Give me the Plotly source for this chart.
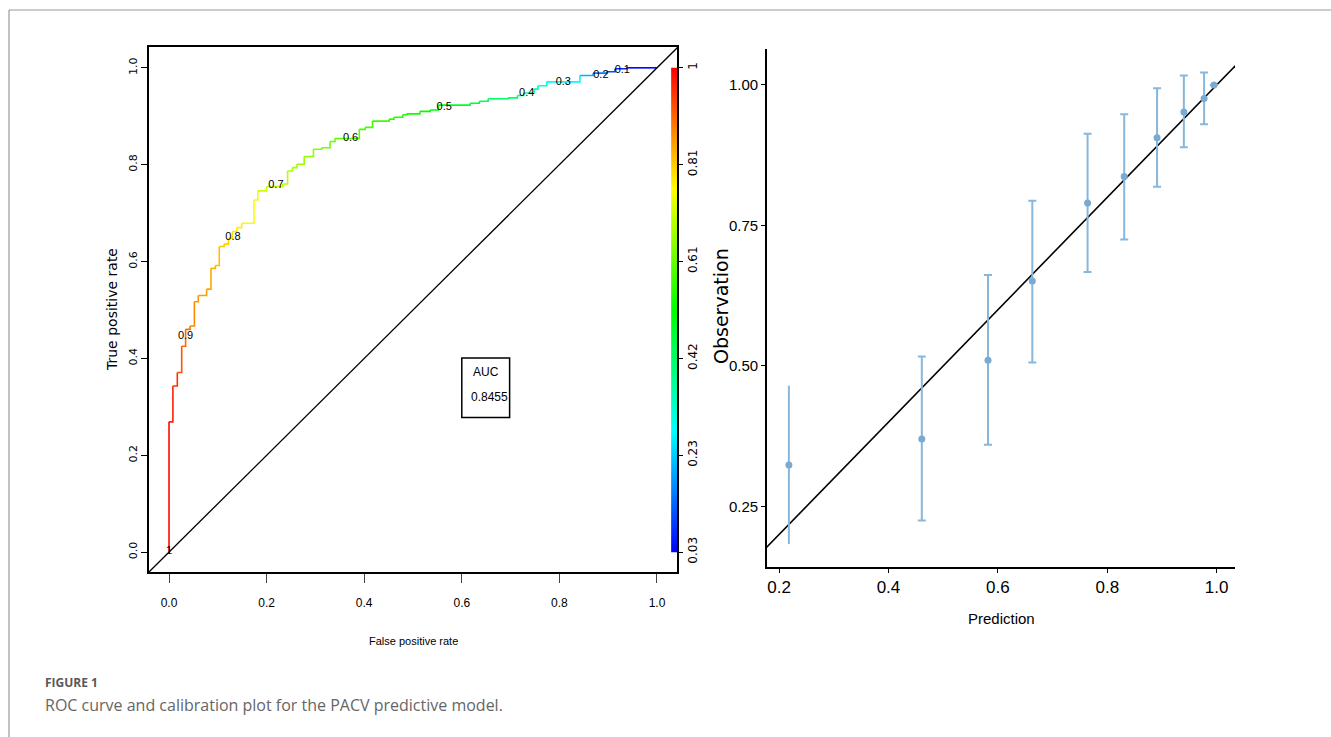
import plotly.graph_objects as go
from plotly.colors import sample_colorscale

W, H = 1331, 737

# ---------------- ROC curve data (left panel) ----------------
roc_fpr = [0.000, 0.000, 0.008, 0.017, 0.026, 0.034, 0.043, 0.052, 0.060, 0.077,
           0.086, 0.095, 0.103, 0.113, 0.122, 0.130, 0.139, 0.149, 0.174, 0.182,
           0.200, 0.233, 0.243, 0.253, 0.262, 0.277, 0.296, 0.313, 0.330, 0.340,
           0.390, 0.402, 0.417, 0.451, 0.461, 0.479, 0.487, 0.514, 0.535, 0.552,
           0.617, 0.636, 0.654, 0.695, 0.714, 0.727, 0.748, 0.756, 0.774, 0.842,
           0.869, 0.897, 0.914, 0.938, 1.000]
roc_tpr = [0.000, 0.269, 0.343, 0.371, 0.425, 0.460, 0.467, 0.517, 0.530, 0.543,
           0.586, 0.592, 0.631, 0.636, 0.648, 0.662, 0.670, 0.679, 0.727, 0.746,
           0.755, 0.760, 0.787, 0.794, 0.801, 0.817, 0.832, 0.835, 0.848, 0.854,
           0.873, 0.877, 0.890, 0.894, 0.898, 0.903, 0.905, 0.910, 0.913, 0.923,
           0.927, 0.931, 0.936, 0.938, 0.943, 0.948, 0.956, 0.963, 0.971, 0.984,
           0.989, 0.992, 0.998, 1.000, 1.000]
roc_cutoff = [1.00, 0.99, 0.97, 0.95, 0.92, 0.90, 0.89, 0.87, 0.86, 0.85,
              0.84, 0.83, 0.82, 0.81, 0.80, 0.79, 0.78, 0.77, 0.75, 0.74,
              0.71, 0.70, 0.69, 0.68, 0.67, 0.66, 0.65, 0.64, 0.62, 0.61,
              0.60, 0.59, 0.58, 0.57, 0.56, 0.55, 0.54, 0.53, 0.52, 0.50,
              0.48, 0.46, 0.44, 0.42, 0.41, 0.40, 0.37, 0.35, 0.31, 0.27,
              0.20, 0.15, 0.10, 0.07, 0.03]

cut_labels = ["1", "0.9", "0.8", "0.7", "0.6", "0.5", "0.4", "0.3", "0.2", "0.1"]
cut_label_fpr = [0.000, 0.034, 0.131, 0.219, 0.372, 0.564, 0.733, 0.808, 0.885, 0.929]
cut_label_tpr = [0.002, 0.445, 0.650, 0.757, 0.855, 0.919, 0.948, 0.970, 0.985, 0.996]

auc_value = 0.8455
cut_min, cut_max = 0.03, 1.00
cbar_tick_pos = [0.0, 0.2, 0.4, 0.6, 0.8, 1.0]
cbar_tick_text = ["0.03", "0.23", "0.42", "0.61", "0.81", "1"]
roc_ticks = [0.0, 0.2, 0.4, 0.6, 0.8, 1.0]
roc_ticktext = ["0.0", "0.2", "0.4", "0.6", "0.8", "1.0"]
identity = [-0.2, 1.2]

# ---------------- Calibration data (right panel) ----------------
pred = [0.218, 0.461, 0.582, 0.663, 0.764, 0.831, 0.891, 0.940, 0.977, 0.995]
obs = [0.324, 0.370, 0.510, 0.651, 0.790, 0.837, 0.906, 0.952, 0.976, 1.000]
obs_lo = [0.183, 0.225, 0.360, 0.506, 0.667, 0.725, 0.819, 0.889, 0.930, 1.000]
obs_hi = [0.465, 0.517, 0.662, 0.794, 0.913, 0.948, 0.994, 1.017, 1.022, 1.000]
has_cap = [False, True, True, True, True, True, True, True, True, True]
cal_xticks = [0.2, 0.4, 0.6, 0.8, 1.0]
cal_xticktext = ["0.2", "0.4", "0.6", "0.8", "1.0"]
cal_yticks = [0.25, 0.50, 0.75, 1.00]
cal_yticktext = ["0.25", "0.50", "0.75", "1.00"]

# ---------------- styling ----------------
rainbow = [[0.0, "#0000FF"], [0.25, "#00FFFF"], [0.5, "#00FF00"],
           [0.75, "#FFFF00"], [1.0, "#FF0000"]]
NARROW = "Liberation Sans, Arial, sans-serif"
WIDE = "DejaVu Sans, Verdana, sans-serif"
ERR_COL = "#88b7db"
PT_COL = "#78aad2"


def px_x(p):
    return p / W


def px_y(p):
    return 1 - p / H


fig = go.Figure()

# ROC step curve, one segment per cutoff colour
for i in range(1, len(roc_fpr)):
    t = (roc_cutoff[i] - cut_min) / (cut_max - cut_min)
    col = sample_colorscale(rainbow, [min(max(t, 0), 1)])[0]
    fig.add_trace(go.Scatter(
        x=[roc_fpr[i - 1], roc_fpr[i]], y=[roc_tpr[i - 1], roc_tpr[i]],
        mode="lines", line=dict(color=col, width=1.6, shape="hv"),
        xaxis="x", yaxis="y", showlegend=False, hoverinfo="skip"))

# chance diagonal
fig.add_trace(go.Scatter(x=identity, y=identity, mode="lines",
                         line=dict(color="black", width=1.3),
                         xaxis="x", yaxis="y", showlegend=False, hoverinfo="skip"))

# cutoff labels
fig.add_trace(go.Scatter(x=cut_label_fpr, y=cut_label_tpr, mode="text",
                         text=cut_labels, textfont=dict(family=NARROW, size=11, color="black"),
                         xaxis="x", yaxis="y", showlegend=False, hoverinfo="skip",
                         cliponaxis=False))

# colour bar strip (gradient)
cb_x0, cb_x1 = 1.029, 1.041
fig.add_trace(go.Scatter(
    x=[cb_x0, cb_x1, cb_x1, cb_x0, cb_x0],
    y=[cbar_tick_pos[0], cbar_tick_pos[0], cbar_tick_pos[-1], cbar_tick_pos[-1], cbar_tick_pos[0]],
    mode="lines", fill="toself", line=dict(width=0, color="rgba(0,0,0,0)"),
    fillgradient=dict(type="vertical", colorscale=rainbow),
    xaxis="x", yaxis="y2", showlegend=False, hoverinfo="skip"))

# calibration identity line
fig.add_trace(go.Scatter(x=identity, y=identity, mode="lines",
                         line=dict(color="black", width=1.6),
                         xaxis="x2", yaxis="y3", showlegend=False, hoverinfo="skip"))

# calibration points with error bars
for cap in (False, True):
    idx = [i for i in range(len(pred)) if has_cap[i] == cap]
    fig.add_trace(go.Scatter(
        x=[pred[i] for i in idx], y=[obs[i] for i in idx], mode="markers",
        marker=dict(color=PT_COL, size=7),
        error_y=dict(type="data", symmetric=False,
                     array=[obs_hi[i] - obs[i] for i in idx],
                     arrayminus=[obs[i] - obs_lo[i] for i in idx],
                     color=ERR_COL, thickness=2, width=4 if cap else 0),
        xaxis="x2", yaxis="y3", showlegend=False, hoverinfo="skip", cliponaxis=False))

# ---------------- layout ----------------
roc_xr = [-0.041, 1.041]
roc_yr = [-0.041, 1.043]

fig.update_layout(
    width=W, height=H, autosize=False,
    margin=dict(l=0, r=0, t=0, b=0),
    paper_bgcolor="white", plot_bgcolor="white",
    xaxis=dict(domain=[px_x(149), px_x(677)], range=roc_xr, anchor="y",
               showline=True, mirror=True, linecolor="black", linewidth=1.5,
               showgrid=False, zeroline=False,
               tickmode="array", tickvals=roc_ticks, ticktext=roc_ticktext,
               ticks="outside", ticklen=9, tickwidth=1.3, tickcolor="#444",
               tickfont=dict(family=NARROW, size=12, color="black"),
               ticklabelstandoff=10),
    yaxis=dict(domain=[px_y(572), px_y(47)], range=roc_yr, anchor="x",
               showline=True, mirror=True, linecolor="black", linewidth=1.5,
               showgrid=False, zeroline=False,
               tickmode="array", tickvals=roc_ticks, ticktext=roc_ticktext,
               ticks="outside", ticklen=6, tickwidth=1.3, tickcolor="black",
               tickangle=-90,
               tickfont=dict(family=WIDE, size=11, color="black")),
    yaxis2=dict(overlaying="y", side="right", anchor="x", range=roc_yr,
                showline=False, showgrid=False, zeroline=False,
                tickmode="array", tickvals=cbar_tick_pos, ticktext=cbar_tick_text,
                ticks="outside", ticklen=5, tickwidth=1.3, tickcolor="black",
                tickangle=-90,
                tickfont=dict(family=WIDE, size=12, color="black")),
    xaxis2=dict(domain=[px_x(767), px_x(1235)], range=[0.178, 1.0335], anchor="y3",
                showline=True, mirror=False, linecolor="black", linewidth=1.6,
                showgrid=False, zeroline=False,
                tickmode="array", tickvals=cal_xticks, ticktext=cal_xticktext,
                ticks="outside", ticklen=4, tickwidth=1.2, tickcolor="black",
                tickfont=dict(family=NARROW, size=17, color="black")),
    yaxis3=dict(domain=[px_y(567), px_y(49)], range=[0.1423, 1.064], anchor="x2",
                showline=True, mirror=False, linecolor="black", linewidth=1.6,
                showgrid=False, zeroline=False,
                tickmode="array", tickvals=cal_yticks, ticktext=cal_yticktext,
                ticks="outside", ticklen=4, tickwidth=1.2, tickcolor="black",
                tickfont=dict(family=NARROW, size=15, color="black")),
    showlegend=False,
)

shapes = [
    # outer figure frame (top and left rules)
    dict(type="line", xref="paper", yref="paper", x0=px_x(9), x1=1.0, y0=px_y(10), y1=px_y(10),
         line=dict(color="#999999", width=1.2)),
    dict(type="line", xref="paper", yref="paper", x0=px_x(9), x1=px_x(9), y0=0, y1=px_y(10),
         line=dict(color="#999999", width=1.2)),
    # AUC legend box
    dict(type="rect", xref="x", yref="y", x0=0.600, x1=0.698, y0=0.278, y1=0.401,
         line=dict(color="black", width=1.5), fillcolor="rgba(0,0,0,0)"),
]


def ann(text, x, y, size, family, color="black", angle=0, xanchor="center", xref="paper", yref="paper"):
    return dict(text=text, x=x, y=y, xref=xref, yref=yref, showarrow=False,
                xanchor=xanchor, yanchor="middle", textangle=angle,
                font=dict(family=family, size=size, color=color))


annotations = [
    ann("AUC", 0.650, 0.372, 12, NARROW, xref="x", yref="y"),
    ann(f"{auc_value:.4f}", 0.656, 0.320, 12, NARROW, xref="x", yref="y"),
    ann("True positive rate", px_x(112), px_y(310), 14, WIDE, angle=-90),
    ann("False positive rate", px_x(413), px_y(641), 11, NARROW),
    ann("Observation", px_x(721), px_y(306), 19, WIDE, angle=-90),
    ann("Prediction", px_x(1001), px_y(618), 15, NARROW),
    ann("<b>FIGURE 1</b>", px_x(43), px_y(682), 12, "Open Sans", color="#58595b", xanchor="left"),
    ann("ROC curve and calibration plot for the PACV predictive model.", px_x(43), px_y(705),
        16, "Open Sans", color="#666666", xanchor="left"),
]

fig.update_layout(shapes=shapes, annotations=annotations)

fig.write_html("out.html")
